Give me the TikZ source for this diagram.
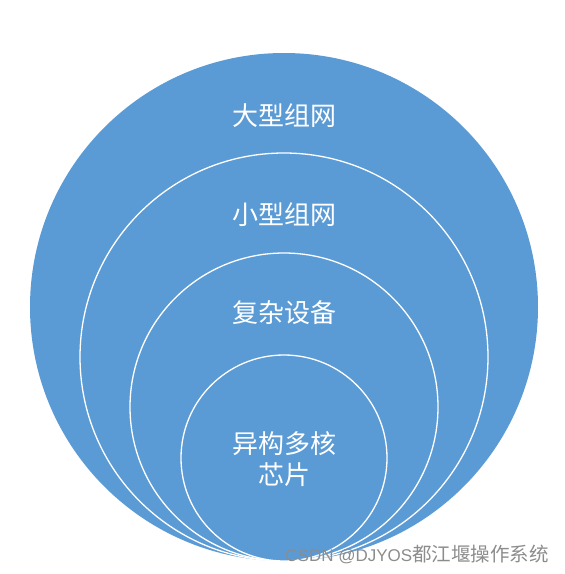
\documentclass[tikz,border=0pt]{standalone}
\usepackage{fontspec}
\setmainfont{Noto Sans CJK SC}
\newfontfamily\latinwm{Liberation Sans}
\definecolor{cblue}{HTML}{5B9BD5}
\definecolor{wmgrey}{HTML}{8C8C8C}
\begin{document}
\begin{tikzpicture}[x=1pt,y=-1pt,
  ring/.style={circle,fill=cblue,draw=white,line width=1.3pt,inner sep=0pt},
  lbl/.style={text=white,font=\fontsize{26}{31}\selectfont,align=center,inner sep=0pt}]
\useasboundingbox (0,0) rectangle (565,574);
\node[circle,fill=cblue,inner sep=0pt,minimum size=508pt] (c1) at (284,307) {};
\node[ring,minimum size=408pt] (c2) at (284,357) {};
\node[ring,minimum size=308pt] (c3) at (284,407) {};
\node[ring,minimum size=206pt] (c4) at (284,458) {};
\node[lbl] (t1) at (284,116) {大型组网};
\node[lbl] (t2) at (284,215) {小型组网};
\node[lbl] (t3) at (284,313) {复杂设备};
\node[lbl] (t4) at (284,459) {异构多核\\芯片};
\node[text=wmgrey,inner sep=0pt,anchor=east] (wm) at (549,554) {{\latinwm\fontsize{17}{20}\selectfont CSDN @DJYOS}{\fontsize{19.5}{22}\selectfont 都江堰操作系统}};
\end{tikzpicture}
\end{document}
